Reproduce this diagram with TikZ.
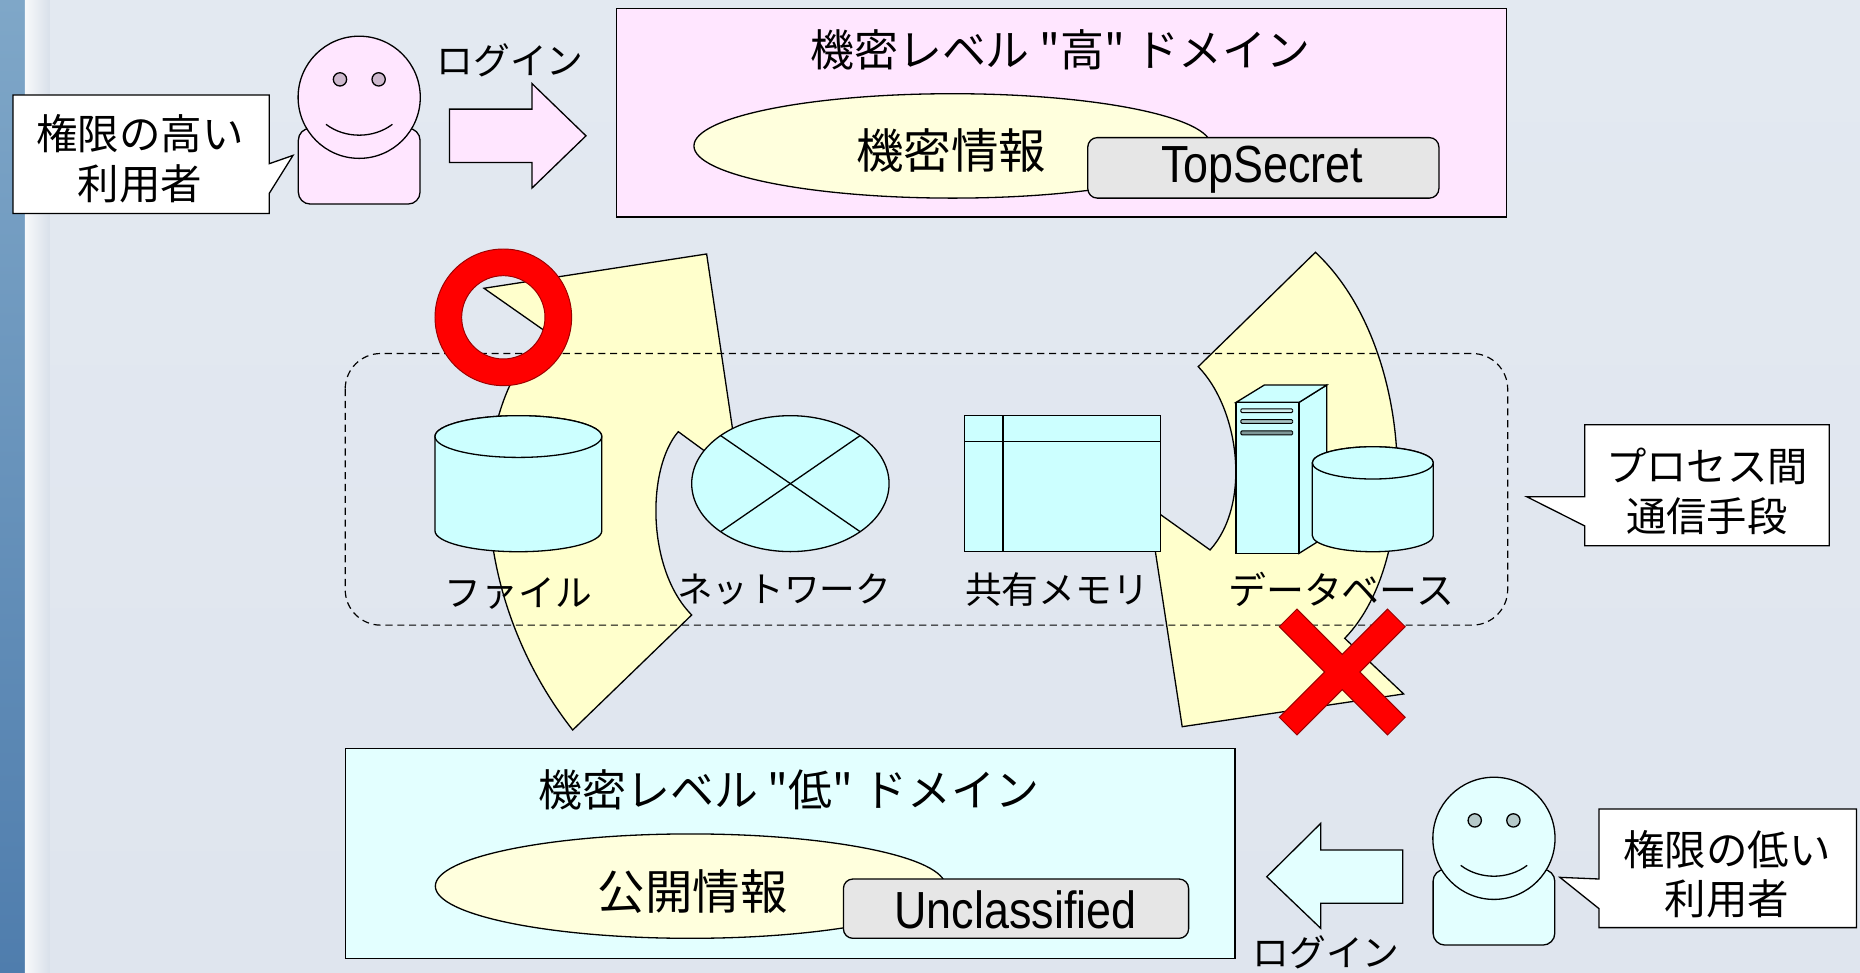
\documentclass[tikz,border=0pt]{standalone}
\usepackage{fontspec}
\setmainfont{Liberation Sans}
\newfontfamily\jpfont{Noto Sans CJK JP}
\usepackage{graphicx}

\definecolor{bgtop}{HTML}{E3E9F1}
\definecolor{bgmid}{HTML}{D9E0EA}
\definecolor{bgbot}{HTML}{DFE5EE}
\definecolor{stripA}{HTML}{7FA7C8}
\definecolor{stripB}{HTML}{2F5A8A}
\definecolor{stripC}{HTML}{4F7DAD}
\definecolor{pinkf}{HTML}{FFE6FF}
\definecolor{pinkeye}{HTML}{CDB8CD}
\definecolor{cyanf}{HTML}{CCFFFF}
\definecolor{lcyanf}{HTML}{E3FFFF}
\definecolor{cyaneye}{HTML}{B5CACA}
\definecolor{creamf}{HTML}{FFFFDD}
\definecolor{yellowf}{HTML}{FFFFCC}
\definecolor{greyf}{HTML}{E6E6E6}
\definecolor{redf}{HTML}{FF0000}
\definecolor{redl}{HTML}{9A0000}
\definecolor{slotA}{HTML}{D2EEEE}
\definecolor{slotB}{HTML}{A6C2C2}
\definecolor{slotC}{HTML}{7E9898}

% a smiling user: head centre at (#1,#2), body/face colour #3, eye colour #4
\newcommand\userfigure[4]{%
  \begin{scope}[shift={(#1,#2)}]
    \draw[outline, fill=#3, rounded corners=10pt] (-51.3,26.2) rectangle (51.3,90);
    \draw[outline, fill=#3] (0,0) circle (51.5);
    \draw[outline, fill=#4] (-16.2,-15.1) circle (5.6);
    \draw[outline, fill=#4] (16.4,-15.1) circle (5.6);
    \draw[outline] (-28,22.8) .. controls (-12,35) and (12,35) .. (28,22.8);
  \end{scope}}

% a cylinder: centre x #1, top-ellipse y #2, bottom-ellipse y #3, radii #4, #5
\newcommand\drumshape[5]{%
  \draw[outline, fill=cyanf] ({#1-#4},#2) -- ({#1-#4},#3)
    arc[start angle=180, end angle=0, x radius=#4, y radius=#5]
    -- ({#1+#4},#2) arc[start angle=0, end angle=-180, x radius=#4, y radius=#5] -- cycle;
  \draw[outline, fill=cyanf] (#1,#2) ellipse[x radius=#4, y radius=#5];}

\tikzset{
  outline/.style={draw=black, line width=1.1pt},
  jp/.style={font={\jpfont\fontsize{#1}{#1}\selectfont}, inner sep=0pt},
  calloutlbl/.style={font={\jpfont\fontsize{#1}{42}\selectfont}, align=center, inner sep=0pt},
  latinlbl/.style={font={\fontsize{44}{44}\selectfont}, inner sep=0pt},
  redmark/.style={fill=redf, draw=redl, line width=0.8pt},
}

\begin{document}
\begin{tikzpicture}[x=1pt,y=-1pt]
\useasboundingbox (0,0) rectangle (1568,820);

% backdrop
\shade[top color=bgtop, middle color=bgmid, bottom color=bgbot] (0,0) rectangle (1568,820);
\shade[top color=stripA, middle color=stripB, bottom color=stripC] (0,0) rectangle (21,820);
\shade[left color=white!80!bgmid, right color=bgmid] (21,0) rectangle (42,820);

% ---- high side -------------------------------------------------------
\draw[outline, fill=white] (11,80) -- (227,80) -- (227,138) -- (247,131)
  -- (227,163) -- (227,180) -- (11,180) -- cycle;
\node[calloutlbl=35] (hiuser) at (118,134) {権限の高い\\利用者};

\userfigure{302.8}{82}{pinkf}{pinkeye}

\draw[outline, fill=pinkf] (379,92) -- (448.5,92) -- (448.5,70.5) -- (494,114.5)
  -- (448.5,158.5) -- (448.5,137) -- (379,137) -- cycle;
\node[jp=31] (hilogin) at (430,51) {ログイン};

\draw[outline, fill=pinkf] (520,7) rectangle (1270,183);
\node[jp=37] (hititle) at (894,42) {機密レベル "高" ドメイン};
\draw[outline, fill=creamf] (803,123) ellipse[x radius=218, y radius=44];
\node[jp=40] (hiinfo) at (802,127) {機密情報};
\draw[outline, fill=greyf, rounded corners=8pt] (917,116) rectangle (1213,167);
\node[latinlbl] (hilabel) at (1064,143) {\scalebox{0.86}[1]{TopSecret}};

% ---- flows between the domains -----------------------------------------
\draw[outline, fill=yellowf] (482.8,615.4) -- (583.1,518.4)
  .. controls (545,480) and (545,395) .. (571.8,363.9)
  -- (623.5,401.8) -- (595.7,214.1) -- (408,243) -- (462.2,281)
  .. controls (392,340) and (392,500) .. (482.8,615.4) -- cycle;
\draw[outline, fill=yellowf] (1108.9,212.7) -- (1010.1,309.1)
  .. controls (1045,345) and (1055,425) .. (1020.1,463.6)
  -- (968.1,426.5) -- (996.6,612.6) -- (1183.3,585) -- (1133.6,538.1)
  .. controls (1200,470) and (1192,290) .. (1108.9,212.7) -- cycle;

% channel group
\draw[line width=1pt, dash pattern=on 6pt off 4pt, rounded corners=30pt]
  (291,298) rectangle (1271,527);

% allowed mark
\path[redmark, even odd rule] (424.3,267.5) circle (57.6) (424.3,267.5) circle (35.1);

% file
\drumshape{437}{368}{447.5}{70.3}{17.6}
\node[jp=31] (lblfile) at (437,500) {ファイル};

% network
\draw[outline, fill=cyanf] (666.3,407.7) ellipse[x radius=83.2, y radius=57.3];
\draw[outline] (607.5,367.2) -- (725.1,448.2);
\draw[outline] (725.1,367.2) -- (607.5,448.2);
\node[jp=30] (lblnet) at (661,497) {ネットワーク};

% shared memory
\draw[outline, fill=cyanf] (812.9,350.4) rectangle (978.5,465);
\draw[outline] (812.9,372.3) -- (978.5,372.3);
\draw[outline] (845.4,350.4) -- (845.4,465);
\node[jp=31] (lblmem) at (891,497) {共有メモリ};

% database: server tower and drum
\draw[outline, fill=cyanf] (1095.1,339.2) -- (1118.4,324.6) -- (1118.4,451.9) -- (1095.1,466.5) -- cycle;
\draw[outline, fill=cyanf] (1042,339.2) -- (1065.8,324.6) -- (1118.4,324.6) -- (1095.1,339.2) -- cycle;
\draw[outline, fill=cyanf] (1042,339.2) rectangle (1095.1,466.5);
\draw[black, line width=0.8pt, fill=slotA, rounded corners=1pt] (1046,344.6) rectangle (1089.8,347.8);
\draw[black, line width=0.8pt, fill=slotB, rounded corners=1pt] (1046,353.7) rectangle (1089.8,356.9);
\draw[black, line width=0.8pt, fill=slotC, rounded corners=1pt] (1046,363.2) rectangle (1089.8,366.6);
\drumshape{1157.3}{390.2}{451.5}{51}{13.6}
\node[jp=32] (lbldb) at (1130.5,497) {データベース};

% refused mark
\begin{scope}[shift={(1131.5,566.5)}, rotate=45]
  \draw[redmark] (64.5,10.5) -- (10.5,10.5) -- (10.5,64.5) -- (-10.5,64.5) -- (-10.5,10.5)
    -- (-64.5,10.5) -- (-64.5,-10.5) -- (-10.5,-10.5) -- (-10.5,-64.5) -- (10.5,-64.5)
    -- (10.5,-10.5) -- (64.5,-10.5) -- cycle;
\end{scope}

% channel callout
\draw[outline, fill=white] (1336,358) -- (1542,358) -- (1542,460) -- (1336,460)
  -- (1336,443.4) -- (1287,418.7) -- (1336,418.7) -- cycle;
\node[calloutlbl=34] (ipc) at (1439,414) {プロセス間\\通信手段};

% ---- low side --------------------------------------------------------
\draw[outline, fill=lcyanf] (291,631) rectangle (1041,808);
\node[jp=37] (lotitle) at (665,666) {機密レベル "低" ドメイン};
\draw[outline, fill=creamf] (582,747) ellipse[x radius=215, y radius=44];
\node[jp=40] (loinfo) at (584,752) {公開情報};
\draw[outline, fill=greyf, rounded corners=8pt] (711,741) rectangle (1002,791);
\node[latinlbl] (lolabel) at (856,767) {\scalebox{0.86}[1]{Unclassified}};

\draw[outline, fill=lcyanf] (1182.5,716.6) -- (1113.4,716.6) -- (1113.4,694.1) -- (1067.9,739.1)
  -- (1113.4,782.6) -- (1113.4,761.5) -- (1182.5,761.5) -- cycle;
\node[jp=31] (login) at (1118,803) {ログイン};

\userfigure{1259.4}{706.7}{lcyanf}{cyaneye}

\draw[outline, fill=white] (1348,682) -- (1565,682) -- (1565,782) -- (1348,782)
  -- (1348,766) -- (1315,739.6) -- (1348,741) -- cycle;
\node[calloutlbl=35] (louser) at (1456,737) {権限の低い\\利用者};

\end{tikzpicture}
\end{document}
